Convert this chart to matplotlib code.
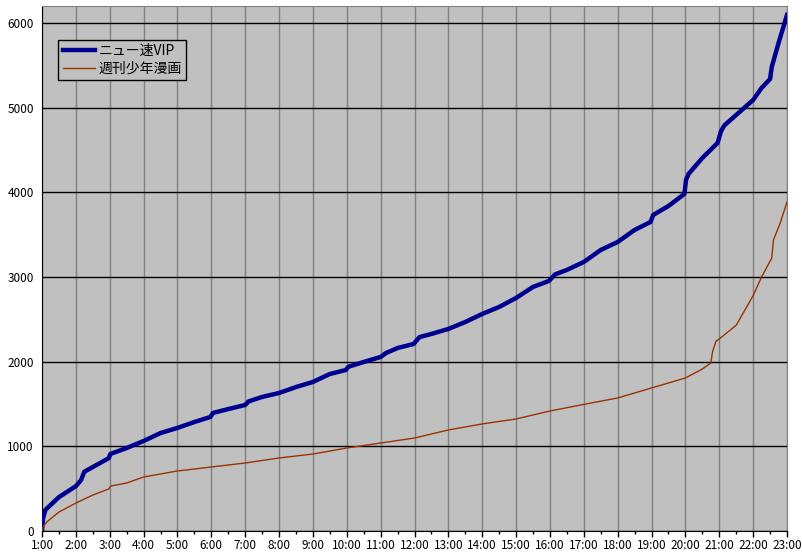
import numpy as np
import matplotlib.pyplot as plt
from matplotlib.ticker import MultipleLocator

plt.rcParams['font.family'] = ['Noto Sans CJK JP', 'DejaVu Sans']

# 時刻 (時) と累計レス数, 画像から読み取り
vip_t = [1.0, 1.03, 1.1, 1.5, 2.0, 2.15, 2.25, 2.5, 2.97, 3.02, 3.5, 4.0, 4.5, 5.0, 5.5,
         5.97, 6.05, 6.5, 7.0, 7.1, 7.5, 8.0, 8.5, 9.0, 9.5, 9.97, 10.05, 10.5, 11.0,
         11.15, 11.5, 11.97, 12.15, 12.5, 13.0, 13.5, 14.0, 14.5, 15.0, 15.5, 15.97,
         16.15, 16.5, 17.0, 17.5, 18.0, 18.5, 18.97, 19.05, 19.5, 19.97, 20.02, 20.1,
         20.5, 20.95, 21.05, 21.15, 21.5, 22.0, 22.25, 22.5, 22.55, 22.75, 23.0]
vip_v = [0, 150, 250, 400, 530, 600, 700, 755, 860, 910, 980, 1063, 1157, 1217, 1287,
         1346, 1394, 1440, 1488, 1530, 1583, 1630, 1700, 1760, 1854, 1901, 1940, 1996, 2055,
         2100, 2161, 2208, 2290, 2327, 2386, 2468, 2563, 2646, 2752, 2882, 2953,
         3030, 3083, 3177, 3319, 3413, 3555, 3649, 3732, 3838, 3980, 4150, 4220,
         4405, 4582, 4720, 4790, 4913, 5090, 5232, 5338, 5480, 5763, 6094]

jump_t = [1.0, 1.05, 1.15, 1.5, 2.0, 2.5, 2.97, 3.03, 3.5, 4.0, 4.5, 5.0, 5.5, 6.0,
          7.0, 8.0, 9.0, 10.0, 11.0, 12.0, 13.0, 14.0, 15.0, 16.0, 17.0, 18.0, 19.0,
          20.0, 20.5, 20.75, 20.8, 20.9, 21.0, 21.5, 22.0, 22.25, 22.55, 22.6, 22.8, 23.0]
jump_v = [0, 60, 110, 224, 330, 425, 496, 531, 567, 638, 673, 709, 732, 756,
          803, 862, 909, 980, 1039, 1098, 1193, 1264, 1323, 1417, 1495, 1571, 1689,
          1807, 1913, 1984, 2114, 2240, 2268, 2430, 2780, 3000, 3224, 3437, 3638, 3886]

hours = np.arange(1, 24)
hour_labels = ['%d:00' % h for h in hours]

fig = plt.figure(figsize=(8.02, 5.53), dpi=100)
ax = fig.add_axes([0.0524, 0.0398, 0.9289, 0.9494])
ax.set_facecolor('#c0c0c0')

ax.plot(vip_t, vip_v, color='#000090', lw=3.2, label='ニュー速VIP', zorder=3)
ax.plot(jump_t, jump_v, color='#993300', lw=1.0, label='週刊少年漫画', zorder=3)

ax.set_xlim(1, 23)
ax.set_ylim(0, 6200)
ax.set_xticks(hours)
ax.set_xticklabels(hour_labels)
ax.xaxis.set_minor_locator(MultipleLocator(0.5))
ax.set_yticks(np.arange(0, 7000, 1000))

ax.grid(axis='x', which='major', color='#808080', lw=1.0)
ax.grid(axis='y', which='major', color='black', lw=1.0)
ax.set_axisbelow(True)

ax.tick_params(axis='x', which='major', length=4, width=1, labelsize=8.5, pad=2, direction='out')
ax.tick_params(axis='x', which='minor', length=2, width=1, direction='out')
ax.tick_params(axis='y', length=0, labelsize=8.5, pad=6)

for s in ['top', 'right']:
    ax.spines[s].set_color('#808080')
ax.spines['left'].set_color('black')
ax.spines['bottom'].set_color('black')

leg = ax.legend(loc='upper left', bbox_to_anchor=(0.022, 0.935), fontsize=10,
                frameon=True, fancybox=False, framealpha=1, borderpad=0.3,
                handlelength=2.3, handletextpad=0.3, labelspacing=0.25, borderaxespad=0)
leg.get_frame().set_facecolor('#c0c0c0')
leg.get_frame().set_edgecolor('black')
leg.get_frame().set_linewidth(1.0)

fig.savefig('out.png', dpi=100)
